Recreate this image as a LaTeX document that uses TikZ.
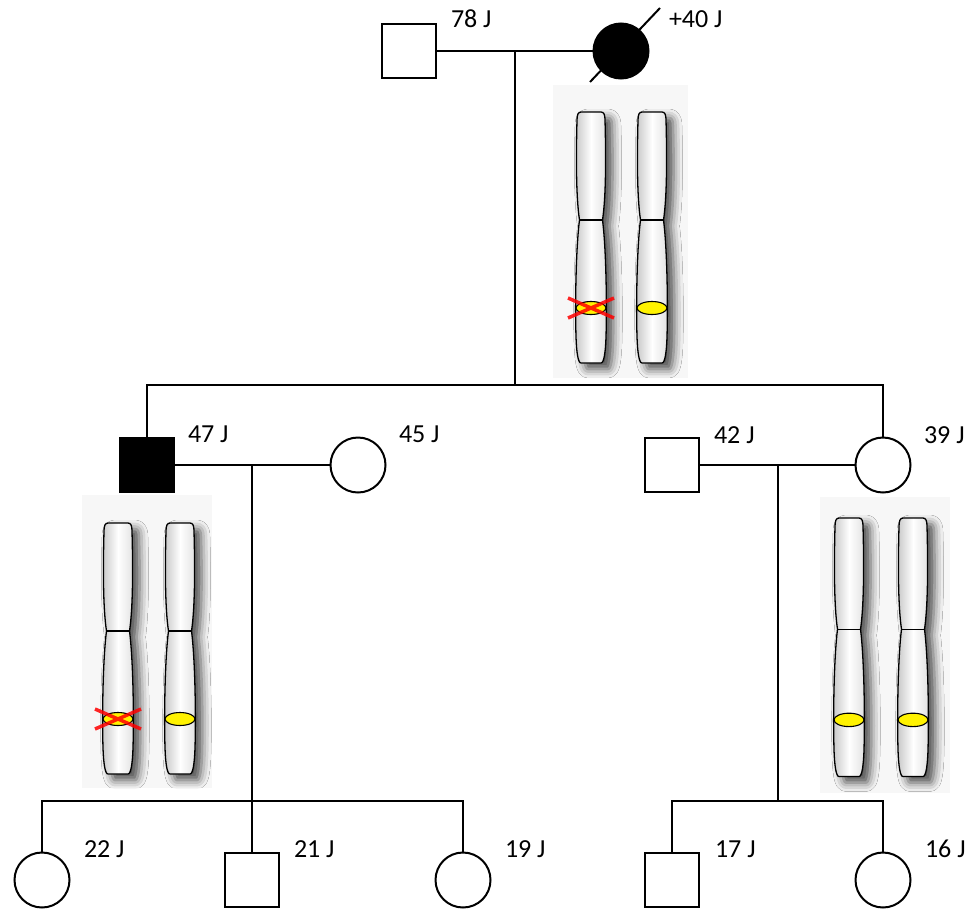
\documentclass[tikz,border=0pt]{standalone}
\usepackage{fontspec}
\setmainfont{Carlito}
\usetikzlibrary{shadows.blur}

\begin{document}
\begin{tikzpicture}[line width=2pt,
  male/.style={draw, rectangle, minimum size=54pt, inner sep=0pt},
  female/.style={draw, circle, minimum size=55pt, inner sep=0pt},
  age/.style={anchor=base west, inner sep=0pt, font=\fontsize{26}{30}\selectfont},
  photo/.style={fill=black!3, draw=none},
  chromo/.pic={
    \begin{scope}[x=1pt, y=1pt]
    \draw[blur shadow={shadow xshift=7pt, shadow yshift=-6pt, shadow blur radius=9pt, shadow opacity=70},
      left color=black!22, right color=black!12, middle color=white, line width=1.3pt]
      (-10,0) -- (10,0) .. controls (13,0) and (14,-3) .. (14,-8)
      .. controls (15,-45) and (15,-85) .. (11.5,-108)
      .. controls (15,-135) and (16,-190) .. (15,-225)
      .. controls (14.5,-240) and (13,-251) .. (10,-251) -- (-10,-251)
      .. controls (-13,-251) and (-14.5,-240) .. (-15,-225)
      .. controls (-16,-190) and (-15,-135) .. (-11.5,-108)
      .. controls (-15,-85) and (-15,-45) .. (-14,-8)
      .. controls (-14,-3) and (-13,0) .. (-10,0) -- cycle;
    \draw[line width=1.3pt] (-11.5,-108) -- (11.5,-108);
    \draw[fill=yellow, line width=1.1pt] (0,-196) ellipse (15 and 6.5);
    \end{scope}
  },
  lost/.pic={
    \draw[red, opacity=0.85, line width=3.5pt] (-23pt,-10pt) -- (23pt,10pt) (-23pt,10pt) -- (23pt,-10pt);
  }]
  \useasboundingbox (0pt,0pt) rectangle (965pt,-910pt);

  \fill[photo] (553pt,-85pt) rectangle (688pt,-378pt);
  \fill[photo] (82pt,-495pt) rectangle (212pt,-788pt);
  \fill[photo] (820pt,-497pt) rectangle (950pt,-793pt);

  \pic at (591pt,-112pt) {chromo};
  \pic at (652pt,-112pt) {chromo};
  \pic at (591pt,-308pt) {lost};
  \pic at (118pt,-523pt) {chromo};
  \pic at (180pt,-523pt) {chromo};
  \pic at (118pt,-719pt) {lost};
  \pic[yscale=1.03] at (849pt,-518pt) {chromo};
  \pic[yscale=1.03] at (913pt,-518pt) {chromo};

  \draw (409.0pt, -51.0pt)node[male](gf){};
  \draw (621.0pt, -51.0pt)node[female, fill=black](gm){};
  \draw (147.0pt, -465.0pt)node[male, fill=black](son){};
  \draw (358.0pt, -465.0pt)node[female](sonw){};
  \draw (672.0pt, -465.0pt)node[male](dauh){};
  \draw (883.0pt, -465.0pt)node[female](dau){};
  \draw (42.0pt, -880.0pt)node[female](c1){};
  \draw (252.0pt, -880.0pt)node[male](c2){};
  \draw (463.0pt, -880.0pt)node[female](c3){};
  \draw (672.0pt, -880.0pt)node[male](c4){};
  \draw (883.0pt, -880.0pt)node[female](c5){};

  \draw (450.0pt, -27.0pt)node[age](agf){78 J};
  \draw (668.0pt, -27.0pt)node[age](agm){+40 J};
  \draw (187.0pt, -442.0pt)node[age](ason){47 J};
  \draw (398.0pt, -442.0pt)node[age](asonw){45 J};
  \draw (713.0pt, -443.0pt)node[age](adauh){42 J};
  \draw (923.0pt, -443.0pt)node[age](adau){39 J};
  \draw (83.0pt, -857.0pt)node[age](ac1){22 J};
  \draw (293.0pt, -857.0pt)node[age](ac2){21 J};
  \draw (504.0pt, -857.0pt)node[age](ac3){19 J};
  \draw (714.0pt, -857.0pt)node[age](ac4){17 J};
  \draw (924.0pt, -857.0pt)node[age](ac5){16 J};

  \coordinate (gm1) at (590pt,-82pt);
  \coordinate (gm2) at (660pt,-8pt);
  \draw (gm1) -- (gm2);

  \coordinate (m0) at (515pt,-51pt);
  \coordinate (s0) at (515pt,-385pt);
  \coordinate (m1) at (252pt,-465pt);
  \coordinate (s1) at (252pt,-801pt);
  \coordinate (m2) at (778pt,-465pt);
  \coordinate (s2) at (778pt,-801pt);

  \draw (gf) -- (gm);
  \draw (m0) -- (s0);
  \draw (son.north) |- (s0) -| (dau.north);
  \draw (son) -- (sonw);
  \draw (dauh) -- (dau);
  \draw (m1) -- (s1);
  \draw (m2) -- (s2);
  \draw (c1.north) |- (s1) -| (c3.north);
  \draw (s1) -- (c2);
  \draw (c4.north) |- (s2) -| (c5.north);
\end{tikzpicture}
\end{document}
